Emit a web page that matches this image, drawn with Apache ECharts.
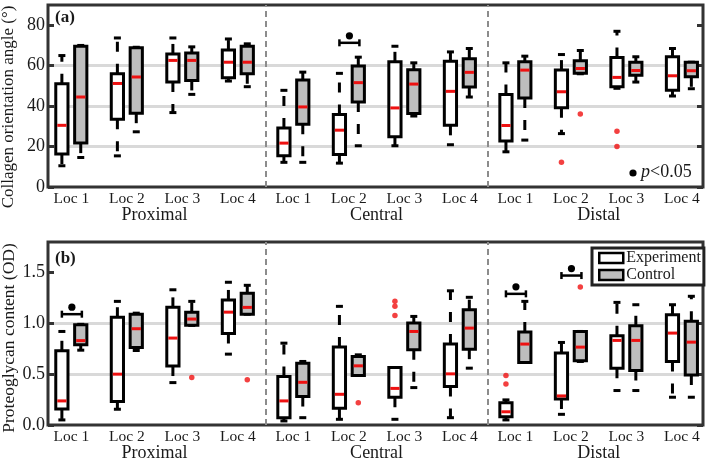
<!DOCTYPE html>
<html>
<head>
<meta charset="utf-8">
<script src="https://cdn.jsdelivr.net/npm/echarts@6/dist/echarts.min.js"></script>
<style>
  html, body { margin: 0; padding: 0; background: #fff; }
  #chart { width: 708px; height: 462px; }
</style>
</head>
<body>
<div id="chart"></div>
<script>
// labels
var locNames = ['Loc 1', 'Loc 2', 'Loc 3', 'Loc 4'];
var regionNames = ['Proximal', 'Central', 'Distal'];
var positions = [1, 2, 3, 4, 5, 6, 7, 8, 9, 10, 11, 12];

// (a) collagen angle, each box: [low, q1, median, q3, high]
var angleExp = [
    [10.5, 16.3, 30.5, 51, 65], [15.4, 33.5, 51.2, 56, 73.7], [36.8, 51.9, 62.6, 65.8, 73.7], [52.4, 54, 61.7, 67.7, 73.2],
    [12.2, 15.4, 21.7, 29.2, 47.8], [11.8, 16.1, 28.1, 35.8, 56.2], [20.4, 24.8, 39.1, 61.9, 69.6], [20.9, 30.5, 47.3, 62.2, 66.8],
    [17.4, 22.7, 30.4, 45.8, 61.4], [26.4, 39.2, 47.1, 57.8, 65.5], [48.8, 49.6, 54.2, 64, 77], [45, 47.8, 55, 64.4, 68.5]
];
var angleCtrl = [
    [14.6, 21.7, 44.5, 69.6, 70], [27.3, 36.5, 54.4, 68.8, 69.1], [45.8, 52.7, 62.6, 66.3, 69.3], [49.6, 56, 61.7, 69.6, 70.8],
    [12.2, 31, 39.6, 52.9, 56.8], [20.4, 42, 51.6, 59.8, 64.2], [35.1, 36.3, 50.9, 58, 61.4], [44.5, 49.4, 56.7, 63.4, 68.5],
    [23.2, 44, 57.8, 61.9, 64.7], [56, 56.3, 58.6, 62.4, 67.5], [51.9, 55.2, 57.6, 61.7, 64.4], [48.6, 54.5, 57.5, 61.7, 61.7]
];
var angleOutExp = [[10, 12.2], [11, 27.6], [11, 20]];
var angleOutCtrl = [[10, 36.1]];
var angleSig = [[6, 71.3]];

// (b) proteoglycan content
var pgExp = [
    [0.05, 0.158, 0.237, 0.73, 0.92], [0.155, 0.23, 0.5, 1.06, 1.216], [0.417, 0.58, 0.855, 1.157, 1.33], [0.697, 0.9, 1.11, 1.23, 1.404],
    [0.04, 0.072, 0.237, 0.477, 0.805], [0.056, 0.164, 0.302, 0.766, 1.167], [0.056, 0.273, 0.36, 0.565, 0.565], [0.072, 0.378, 0.503, 0.796, 1.32],
    [0.05, 0.082, 0.13, 0.22, 0.247], [0.105, 0.256, 0.286, 0.707, 0.812], [0.339, 0.559, 0.832, 0.878, 1.206], [0.273, 0.625, 0.904, 1.085, 1.183]
];
var pgCtrl = [
    [0.736, 0.79, 0.83, 0.986, 0.99], [0.733, 0.763, 0.947, 1.09, 1.1], [0.98, 0.98, 1.042, 1.108, 1.216], [1.09, 1.09, 1.157, 1.295, 1.374],
    [0.072, 0.28, 0.42, 0.608, 0.625], [0.487, 0.487, 0.582, 0.674, 0.69], [0.368, 0.74, 0.92, 1.003, 1.068], [0.559, 0.746, 0.953, 1.134, 1.256],
    [0.615, 0.615, 0.796, 0.914, 1.216], [0.625, 0.631, 0.766, 0.92, 0.92], [0.339, 0.536, 0.832, 0.976, 1.183], [0.273, 0.493, 0.815, 1.02, 1.266]
];
var pgOutExp = [[7, 1.216], [7, 1.167], [7, 1.078], [9, 0.487], [9, 0.404]];
var pgOutCtrl = [[3, 0.467], [4, 0.444], [6, 0.22], [10, 1.358]];
var pgSig = [[1, 1.09], [9, 1.29], [10, 1.47]];

var angleTicks = [0, 20, 40, 60, 80];
var pgTicks = [0, 0.5, 1.0, 1.5];
var dividers = [4.5, 8.5];

var serif = 'Liberation Serif, Times New Roman, serif';
var shift = 0.17;

function boxData(stats) {
    return stats.map(function (s, i) { return [positions[i]].concat(s); });
}

function outData(list, dx) {
    return list.map(function (p) { return [p[0] + dx, p[1]]; });
}

function makeBoxRender(dx, fill) {
    return function (params, api) {
        var pos = api.value(0) + dx;
        var pLow = api.coord([pos, api.value(1)]);
        var pQ1 = api.coord([pos, api.value(2)]);
        var pMed = api.coord([pos, api.value(3)]);
        var pQ3 = api.coord([pos, api.value(4)]);
        var pHigh = api.coord([pos, api.value(5)]);
        var w = api.size([0.22, 0])[0];
        var x = pLow[0];
        var capW = 3.5;
        var wl = { stroke: '#000', lineWidth: 3, lineDash: [10, 12] };
        return {
            type: 'group',
            children: [
                { type: 'line', shape: { x1: x, y1: pQ3[1], x2: x, y2: pHigh[1] }, style: wl },
                { type: 'line', shape: { x1: x, y1: pQ1[1], x2: x, y2: pLow[1] }, style: wl },
                { type: 'line', shape: { x1: x - capW, y1: pHigh[1], x2: x + capW, y2: pHigh[1] }, style: { stroke: '#000', lineWidth: 3 } },
                { type: 'line', shape: { x1: x - capW, y1: pLow[1], x2: x + capW, y2: pLow[1] }, style: { stroke: '#000', lineWidth: 3 } },
                { type: 'rect', shape: { x: x - w / 2, y: pQ3[1], width: w, height: pQ1[1] - pQ3[1] }, style: { fill: fill, stroke: '#000', lineWidth: 3 } },
                { type: 'line', shape: { x1: x - w / 2 + 1.5, y1: pMed[1], x2: x + w / 2 - 1.5, y2: pMed[1] }, style: { stroke: '#ee1111', lineWidth: 3 } }
            ]
        };
    };
}

function sigRender(params, api) {
    var a = api.coord([api.value(0) - shift, api.value(1)]);
    var b = api.coord([api.value(0) + shift + 0.02, api.value(1)]);
    var st = { stroke: '#000', lineWidth: 2.5 };
    return {
        type: 'group',
        children: [
            { type: 'line', shape: { x1: a[0], y1: a[1], x2: b[0], y2: b[1] }, style: st },
            { type: 'line', shape: { x1: a[0], y1: a[1] - 3.5, x2: a[0], y2: a[1] + 3.5 }, style: st },
            { type: 'line', shape: { x1: b[0], y1: b[1] - 3.5, x2: b[0], y2: b[1] + 3.5 }, style: st },
            { type: 'circle', shape: { cx: (a[0] + b[0]) / 2, cy: a[1] - 7, r: 3.6 }, style: { fill: '#000' } }
        ]
    };
}

function panelSeries(xi, yi, exp, ctrl, outExp, outCtrl, sig) {
    return [
        {
            type: 'scatter', xAxisIndex: xi, yAxisIndex: yi, data: [], silent: true,
            markLine: {
                silent: true, symbol: 'none', label: { show: false },
                lineStyle: { color: '#8c8c8c', type: [6, 4], width: 2 },
                data: dividers.map(function (d) { return { xAxis: d }; })
            }
        },
        {
            name: 'Experiment', type: 'custom', xAxisIndex: xi, yAxisIndex: yi,
            itemStyle: { color: '#fff', borderColor: '#000' },
            renderItem: makeBoxRender(-shift, '#fff'), data: boxData(exp), silent: true
        },
        {
            name: 'Control', type: 'custom', xAxisIndex: xi, yAxisIndex: yi,
            itemStyle: { color: '#bebebe', borderColor: '#000' },
            renderItem: makeBoxRender(shift, '#bebebe'), data: boxData(ctrl), silent: true
        },
        {
            type: 'scatter', xAxisIndex: xi, yAxisIndex: yi, symbol: 'circle', symbolSize: 5.5,
            itemStyle: { color: '#f01010' }, silent: true,
            data: outData(outExp, -shift).concat(outData(outCtrl, shift))
        },
        {
            type: 'custom', xAxisIndex: xi, yAxisIndex: yi, renderItem: sigRender, data: sig, silent: true
        }
    ];
}

function locAxis(gi) {
    return {
        type: 'value', gridIndex: gi, min: 0.58, max: 12.38,
        axisLine: { show: false }, axisTick: { show: false }, splitLine: { show: false },
        axisLabel: {
            customValues: positions, margin: 4, fontFamily: serif, fontSize: 15.5, color: '#1a1a1a',
            formatter: function (v) { return locNames[(Math.round(v) - 1) % 4]; }
        }
    };
}

function regionAxis(gi) {
    return {
        type: 'value', gridIndex: gi, min: 0.58, max: 12.38, position: 'bottom', offset: 15,
        axisLine: { show: false }, axisTick: { show: false }, splitLine: { show: false },
        axisLabel: {
            customValues: [2.5, 6.5, 10.5], margin: 4, fontFamily: serif, fontSize: 18, color: '#1a1a1a',
            formatter: function (v) { return regionNames[Math.round((v - 2.5) / 4)]; }
        }
    };
}

function leftAxis(gi, max, interval, ticks, fmt) {
    return {
        type: 'value', gridIndex: gi, min: 0, max: max, interval: interval, position: 'left',
        axisLine: { show: false },
        axisTick: { inside: true, length: 6, customValues: ticks, lineStyle: { color: '#333', width: 3 } },
        axisLabel: { customValues: ticks, margin: 3, fontFamily: serif, fontSize: 18, color: '#1a1a1a', formatter: fmt },
        splitLine: { show: true, showMinLine: false, showMaxLine: false, lineStyle: { color: '#d9d9d9', width: 3 } }
    };
}

function rightAxis(gi, max, interval, ticks) {
    return {
        type: 'value', gridIndex: gi, min: 0, max: max, interval: interval, position: 'right',
        axisLine: { show: false }, axisLabel: { show: false }, splitLine: { show: false },
        axisTick: { inside: true, length: 6, customValues: ticks, lineStyle: { color: '#333', width: 3 } }
    };
}

var myChart = echarts.init(document.getElementById('chart'));
var option = {
    backgroundColor: '#fff',
    animation: false,
    grid: [
        { left: 48, right: 5, top: 5, height: 182, show: true, borderColor: '#333', borderWidth: 3, backgroundColor: '#fff' },
        { left: 48, right: 5, top: 242, height: 183, show: true, borderColor: '#333', borderWidth: 3, backgroundColor: '#fff' }
    ],
    xAxis: [locAxis(0), regionAxis(0), locAxis(1), regionAxis(1)],
    yAxis: [
        leftAxis(0, 90, 20, angleTicks, function (v) { return String(v); }),
        rightAxis(0, 90, 20, angleTicks),
        leftAxis(1, 1.8, 0.5, pgTicks, function (v) { return v.toFixed(1); }),
        rightAxis(1, 1.8, 0.5, pgTicks)
    ],
    legend: {
        data: [
            { name: 'Experiment', icon: 'rect', itemStyle: { color: '#fff', borderColor: '#000', borderWidth: 2.5 } },
            { name: 'Control', icon: 'rect', itemStyle: { color: '#bebebe', borderColor: '#000', borderWidth: 2.5 } }
        ],
        orient: 'vertical', left: 592, top: 248, itemGap: 1, itemWidth: 24, itemHeight: 10,
        padding: [2, 3, 2, 6], borderColor: '#222', borderWidth: 3, backgroundColor: '#fff',
        selectedMode: false,
        textStyle: { fontFamily: serif, fontSize: 16, color: '#1a1a1a', padding: [0, 0, 0, -2] }
    },
    graphic: [
        { type: 'text', x: 9, y: 107, rotation: Math.PI / 2, style: { text: 'Collagen orientation angle (°)', font: '17px ' + serif, fill: '#1a1a1a', textAlign: 'center', textVerticalAlign: 'middle' } },
        { type: 'text', x: 9, y: 338, rotation: Math.PI / 2, style: { text: 'Proteoglycan content (OD)', font: '17.5px ' + serif, fill: '#1a1a1a', textAlign: 'center', textVerticalAlign: 'middle' } },
        { type: 'text', x: 55, y: 18, style: { text: '(a)', font: 'bold 17px ' + serif, fill: '#1a1a1a', textVerticalAlign: 'middle' } },
        { type: 'text', x: 55, y: 259, style: { text: '(b)', font: 'bold 17px ' + serif, fill: '#1a1a1a', textVerticalAlign: 'middle' } },
        { type: 'circle', shape: { cx: 633, cy: 173, r: 3.6 }, style: { fill: '#000' } },
        {
            type: 'text', x: 641, y: 172,
            style: {
                text: '{i|p}<0.05', textVerticalAlign: 'middle', font: '18px ' + serif, fill: '#1a1a1a',
                rich: { i: { fontStyle: 'italic', fontFamily: serif, fontSize: 18 } }
            }
        }
    ],
    series: panelSeries(0, 0, angleExp, angleCtrl, angleOutExp, angleOutCtrl, angleSig)
        .concat(panelSeries(2, 2, pgExp, pgCtrl, pgOutExp, pgOutCtrl, pgSig))
};
myChart.setOption(option);
</script>
</body>
</html>
